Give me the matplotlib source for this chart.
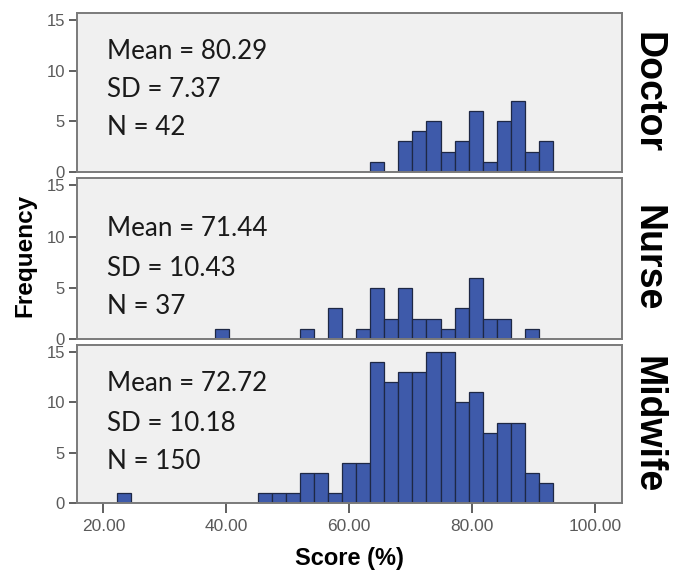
import matplotlib
matplotlib.use('Agg')
import matplotlib.pyplot as plt
import numpy as np

#%% Data (counts per bin, 31 equal bins)
bin_start = 22.2
bin_width = 2.29
groups = ['Doctor', 'Nurse', 'Midwife']
doctor_counts = [0]*18 + [1, 0, 3, 4, 5, 2, 3, 6, 1, 5, 7, 2, 3]
nurse_counts = [0, 0, 0, 0, 0, 0, 0, 1, 0, 0, 0, 0, 0, 1, 0, 3, 0,
                1, 5, 2, 5, 2, 2, 1, 3, 6, 2, 2, 0, 1, 0]
midwife_counts = [1] + [0]*9 + [1, 1, 1, 3, 3, 1, 4, 4, 14, 12, 13, 13,
                                15, 15, 10, 11, 7, 8, 8, 3, 2]
stats = [('80.29', '7.37', '42'), ('71.44', '10.43', '37'), ('72.72', '10.18', '150')]
x_ticks = [20, 40, 60, 80, 100]
x_ticklabels = ['20.00', '40.00', '60.00', '80.00', '100.00']
y_ticks = [0, 5, 10, 15]

all_counts = [doctor_counts, nurse_counts, midwife_counts]

#%% Layout (pixels measured from the reference)
W, H = 678, 572
left, right = 76.7, 621.7
panels_px = [(13.3, 171.7), (178.3, 339.0), (345.0, 503.3)]
text_y = [(0.756, 0.516, 0.276), (0.689, 0.44, 0.20), (0.758, 0.505, 0.263)]

bar_color = '#3E5AAA'
edge_color = '#1E2845'
face = '#F0F0F0'
tick_col = '#5a5a5a'

fig = plt.figure(figsize=(W/100, H/100), dpi=100)

for i, (name, counts) in enumerate(zip(groups, all_counts)):
    top, bot = panels_px[i]
    ax = fig.add_axes([left/W, 1 - bot/H, (right - left)/W, (bot - top)/H])
    ax.set_facecolor(face)
    lefts = bin_start + bin_width*np.arange(len(counts))
    ax.bar(lefts, counts, width=bin_width, align='edge', color=bar_color,
           edgecolor=edge_color, linewidth=0.9, zorder=2)
    ax.set_xlim(15.67, 104.34)
    ax.set_ylim(0, 15.7)
    ax.set_yticks(y_ticks)
    ax.tick_params(axis='y', length=6, width=1.2, color='#444444', pad=2.5,
                   labelsize=12, labelcolor=tick_col)
    for s in ax.spines.values():
        s.set_color('#7a7a7a')
        s.set_linewidth(1.4)
    ax.set_xticks(x_ticks)
    if i < 2:
        ax.tick_params(axis='x', length=0, labelbottom=False)
    else:
        ax.set_xticklabels(x_ticklabels)
        ax.tick_params(axis='x', length=7, width=1.2, color='#444444', pad=4.5,
                       labelsize=12.5, labelcolor=tick_col)
    for lab in ax.get_xticklabels() + ax.get_yticklabels():
        lab.set_family('Liberation Sans')

    mean, sd, n = stats[i]
    for txt, yy in zip(['Mean = ' + mean, 'SD = ' + sd, 'N = ' + n], text_y[i]):
        ax.text(0.055, yy, txt, transform=ax.transAxes, ha='left', va='center',
                fontsize=18.7, family='Lato', color='#1a1a1a')

    fig.text(647/W, 1 - (top + bot)/2/H, name, rotation=-90, ha='center', va='center',
             fontsize=27, fontweight='bold', family='Liberation Sans', color='black')

fig.text(25/W, 1 - 255/H, 'Frequency', rotation=90, ha='center', va='center',
         fontsize=17.5, fontweight='bold', family='Liberation Sans')
fig.text(349/W, 1 - 558/H, 'Score (%)', ha='center', va='center',
         fontsize=17, fontweight='bold', family='Liberation Sans')

fig.savefig('out.png', dpi=100, facecolor='white')
